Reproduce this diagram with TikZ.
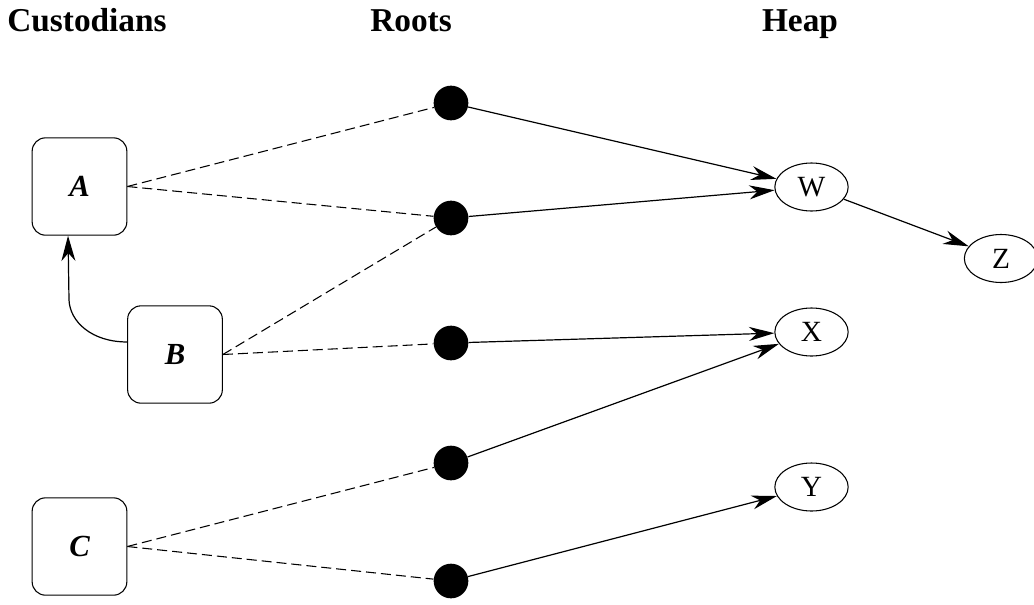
\documentclass[tikz,border=0pt]{standalone}
\usepackage{fontspec}
\setmainfont{Liberation Serif}
\usetikzlibrary{arrows.meta,shapes.geometric}
\begin{document}
\begin{tikzpicture}[x=0.75pt,y=-0.75pt,
  cust/.style={draw, rounded corners=10pt, minimum width=71pt, minimum height=73pt, line width=0.8pt, font=\fontsize{23}{27}\selectfont\bfseries\itshape, inner sep=0pt},
  root/.style={circle, fill=black, minimum size=26pt, inner sep=0pt},
  obj/.style={draw, ellipse, minimum width=55pt, minimum height=36pt, inner sep=0pt, font=\fontsize{22}{26}\selectfont, line width=0.8pt},
  ref/.style={line width=0.8pt, dash pattern=on 7.5pt off 3.75pt},
  ptr/.style={line width=0.9pt, -{Stealth[length=19pt,width=10.5pt,inset=6pt]}},
  title/.style={font=\fontsize{25}{30}\selectfont\bfseries, anchor=base, inner sep=0pt}]
\useasboundingbox (0,0) rectangle (1034,604);
% titles
\node[title] (tc) at (87,31) {Custodians};
\node[title] (tr) at (411,31) {Roots};
\node[title] (th) at (800,31) {Heap};
% custodians
\node[cust] (A) at (79.5,186.5) {A};
\node[cust] (B) at (175,354.5) {B};
\node[cust] (C) at (79.5,546.5) {C};
% roots
\node[root] (r1) at (451,103) {};
\node[root] (r2) at (451,218) {};
\node[root] (r3) at (451,343) {};
\node[root] (r4) at (451,463) {};
\node[root] (r5) at (451,581) {};
% heap
\node[obj] (W) at (811.5,187) {W};
\node[obj] (X) at (811.5,332) {X};
\node[obj] (Y) at (811.5,487) {Y};
\node[obj] (Z) at (1001,258.5) {Z};
% dashed custody lines
\draw[ref] (A.east) -- (r1);
\draw[ref] (A.east) -- (r2);
\draw[ref] (B.east) -- (r2);
\draw[ref] (B.east) -- (r3);
\draw[ref] (C.east) -- (r4);
\draw[ref] (C.east) -- (r5);
% pointers
\draw[ptr] (r1) -- (W);
\draw[ptr] (r2) -- (W);
\draw[ptr] (r3) -- (X);
\draw[ptr] (r4) -- (X);
\draw[ptr] (r5) -- (Y);
\draw[ptr] (W) -- (Z);
\draw[ptr] ([yshift=9.4pt]B.west) .. controls (92,342) and (70,322) .. (69,300) -- ([xshift=-8.6pt]A.south);
\end{tikzpicture}
\end{document}
